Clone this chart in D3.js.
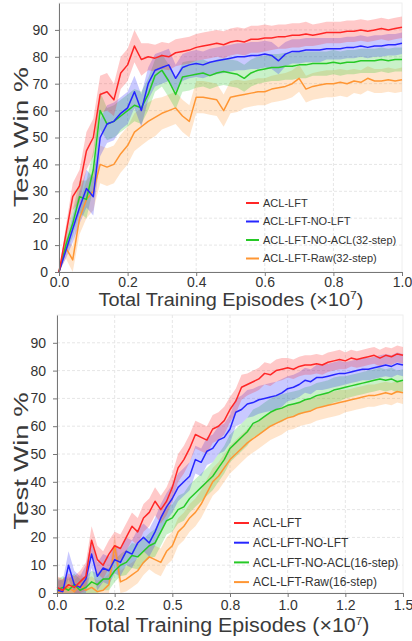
<!DOCTYPE html>
<html lang="en">
<head>
<meta charset="utf-8">
<style type="text/css">
    body { margin: 0; background: #fff; }
    svg { display: block; font-family: "Liberation Sans", Arial, sans-serif; }
    .grid line { stroke: #e6e6e6; stroke-width: 1px; stroke-dasharray: 3,2; }
    .axis path, .axis line { stroke: #777; }
    .axis text { fill: #333; font-size: 14px; }
</style>
</head>
<body>
<svg width="412" height="641"></svg>

<script src="https://d3js.org/d3.v7.min.js" type="text/javascript"></script>

<script type="text/javascript">
    var seriesNames32 = ["ACL-LFT", "ACL-LFT-NO-LFT", "ACL-LFT-NO-ACL(32-step)", "ACL-LFT-Raw(32-step)"];
    var seriesNames16 = ["ACL-LFT", "ACL-LFT-NO-LFT", "ACL-LFT-NO-ACL(16-step)", "ACL-LFT-Raw(16-step)"];
    var colors = ["#ff2626", "#2626ff", "#26c926", "#ff9633"];
    var yTicks = [0, 10, 20, 30, 40, 50, 60, 70, 80, 90];

    // top panel: episodes 0 .. 1.0 (x1e7), step 0.02
    var topStep = 0.02;
    var topXTicks = [0, 0.2, 0.4, 0.6, 0.8, 1.0];
    var topXLabels = ["0.0", "0.2", "0.4", "0.6", "0.8", "1.0"];
    var topRed = [0,14,28,32,45,50,66,67,64,74, 77,84,79,80,79.5,80.5,80,81.5,82,82.5,
        83.5,84,84.5,85,84.5,85.5,86,85.5,86.5,86.5, 87,87,87.5,87.5,88,88,88.5,88,88.5,89,
        89,89,89.5,89.5,90,89.5,90,90.5,90,90.5, 91];
    var topBlue = [0,8,16,24,31,28,50,55,56,59, 61,67,60,70,75,76,77,72,76,77,
        77.5,77,78,78.5,79,79.5,80,80,80.5,80.5, 81,80.5,78.5,81,82,82,82.5,82.5,82.5,83,
        83,83,83.5,83.5,84,83.5,84,84,84.5,84.5, 85];
    var topGreen = [0,10,18,28,27,38,60,55,56,58, 60,62,61,66,73,75,71,66,72.5,73,
        73.5,74,73,74,74.5,74,73.5,72,74,75, 75.5,76,76,76.5,76.5,77,77,77.5,77.5,77.5,
        78,77.5,78,78,78.5,78.5,78.5,79,78.5,79, 79];
    var topOrange = [0,9,4.5,20,27,30,40,39,40,44, 47,52,54,56,57.5,59,60,61,58,56,
        65,65,64.5,64,60,65,65.5,66,66.5,67, 67,68,68.5,69,70,72,68,69,69.5,70,
        70,70.5,70,71,70.5,72,71,71,71.5,71, 71.5];
    var topRedSd = [0,3,5,6,7,7,7,7,6,6, 6,6,6,5,5,5,5,5,5,5, 5,5,5,5,5,5,5,5,5,5,
        5,4.5,4.5,4.5,4.5,4.5,4.5,4,4,4, 4,4,4,4,4,4,4,4,4,4, 4];
    var topBlueSd = [0,3,5,6,7,7,7,7,7,6, 6,6,6,6,6,6,6,5,5,5, 5,5,5,5,5,5,5,5,5,5,
        5,5,5,4.5,4.5,4.5,4.5,4.5,4.5,4, 4,4,4,4,4,4,4,4,4,4, 4];
    var topGreenSd = [0,3,5,6,7,7,7,6,6,6, 6,6,6,6,6,6,6,5.5,5.5,5.5, 5,5,5,5,5,5,5,5,5,5,
        5,5,5,5,5,5,5,4.5,4.5,4.5, 4.5,4.5,4.5,4.5,4.5,4.5,4.5,4.5,4.5,4.5, 4.5];
    var topOrangeSd = [0,4,5,6,7,7,7,7,7,7, 7,7,7,7,7,6,6,6,6,6, 6,6,6,6,6,6,6,5,5,5,
        5,5,5,5,5,5,5,5,5,5, 5,5,5,4.5,4.5,4.5,4.5,4.5,4.5,4.5, 4.5];

    // bottom panel: episodes 0 .. 1.5 (x1e7), step 0.025
    var botStep = 0.025;
    var botXTicks = [0, 0.25, 0.5, 0.75, 1.0, 1.25, 1.5];
    var botXLabels = ["0.0", "0.2", "0.5", "0.8", "1.0", "1.2", "1.5"];
    var botRed = [2,1,3,2,4,6,19,12,10,14, 17,16,20,24,22,27,29,33,30,33,
        38,45,48,52,57,56,55,59,60,62, 66,69,74,75,76,77,79,78.5,80,80.5,
        81,80.5,81.5,82,82,82.5,82,83,83.5,84, 83.5,84.5,84,84.5,85,85.5,84.5,85.5,85,86, 85.5];
    var botBlue = [1,0.5,10,3,2,5,14,6,9,8, 12,11,15,14,18,20,18,22,27,31,
        34,38,40,42,48,47,51,52,55,56, 59,65,66,68,68.5,69.5,70,70.5,71,72,
        73.5,74,75,76.5,76,77.5,77.5,78,78.5,79, 79,79.5,80,80.5,80.5,81,81.5,82,81.5,82.5, 82];
    var botGreen = [1,2,1,3,1,2,4,3,5,5, 8,10,11,13.5,13,15,17,18,22,26,
        27,30,31,34,36,38,40,42,45,48, 52,54,56,58,61,62,63.5,65,66,66.5,
        67.5,68,68.5,69.5,70,71,71.5,72,73,73.5, 74,74.5,75,75.5,76,76.5,77,76.5,77,76, 76.5];
    var botOrange = [0,1,2,0.5,3,1,2,0.5,1,3, 17,4,5,6.5,8,11,13,12,11,15,
        17,22,24,27,29,32,36,40,42,45, 48,50,52,54,55.5,57,58.5,60,61,62,
        63,63.5,64.5,65,65.5,66.5,67,67.5,68,68.5, 69,69.5,70,70.5,71,71,71.5,72,71.5,72.5, 72];
    var botRedSd = [4,4,4,4,4,5,5,5,5,5, 5,5,5,5,5,5,5,5,5,5, 5,5,5,5,5,5,5,5,5,5,
        4.5,4.5,4.5,4,4,4,4,4,4,4, 3.5,3.5,3.5,3.5,3.5,3.5,3.5,3.5,3.5,3.5, 3,3,3,3,3,3,3,3,3,3, 3];
    var botBlueSd = [4,4,5,5,4,5,5,5,5,5, 5,5,5,5,5,5,5,5,5,5, 5,5,5,5,5,5,5,5,5,5,
        5,5,5,5,5,5,5,5,5,5, 4.5,4.5,4.5,4.5,4.5,4.5,4.5,4.5,4.5,4.5, 4,4,4,4,4,4,4,4,4,4, 4];
    var botGreenSd = [4,4,4,4,4,4,4,4,4,4, 4,4,4.5,4.5,4.5,4.5,4.5,5,5,5, 5,5,5,5,5,5,5,5,5,5,
        5,5,5,5,5,5,5,5,5,5, 4.5,4.5,4.5,4.5,4.5,4.5,4.5,4.5,4.5,4.5, 4,4,4,4,4,4,4,4,4,4, 4];
    var botOrangeSd = [4,4,4,4,4,4,4,4,4,4, 4,4,4.5,4.5,4.5,4.5,4.5,5,5,5, 5,5,5,5,5,5,5,5,5,5,
        5,5,5,5,5,5,5,5,5,5, 4.5,4.5,4.5,4.5,4.5,4.5,4.5,4.5,4.5,4.5, 4,4,4,4,4,4,4,4,4,4, 4];

    var svg = d3.select("svg");

    function drawPanel(p) {
        var x = d3.scaleLinear().domain(p.xDomain).range([p.left, p.right]);
        var y = d3.scaleLinear().domain([0, 100]).range([p.bottom, p.top]);
        var g = svg.append("g");

        // frame + grid
        g.append("rect")
            .attr("x", p.left).attr("y", p.top)
            .attr("width", p.right - p.left).attr("height", p.bottom - p.top)
            .attr("fill", "none").attr("stroke", "#eeeeee");
        var grid = g.append("g").attr("class", "grid");
        grid.selectAll(".gy").data(yTicks.slice(1)).enter().append("line")
            .attr("x1", p.left).attr("x2", p.right)
            .attr("y1", function (d) { return y(d); }).attr("y2", function (d) { return y(d); });
        grid.selectAll(".gx").data(p.xTicks.slice(1, -1)).enter().append("line")
            .attr("y1", p.top).attr("y2", p.bottom)
            .attr("x1", function (d) { return x(d); }).attr("x2", function (d) { return x(d); });

        var area = d3.area()
            .x(function (d) { return x(d.t); })
            .y0(function (d) { return y(Math.max(0, d.v - d.s)); })
            .y1(function (d) { return y(Math.min(100, d.v + d.s)); });
        var line = d3.line()
            .x(function (d) { return x(d.t); })
            .y(function (d) { return y(d.v); });

        var series = p.values.map(function (vals, k) {
            return vals.map(function (v, i) { return { t: i * p.step, v: v, s: p.sds[k][i] }; });
        });

        var order = [3, 2, 1, 0];
        order.forEach(function (k) {
            g.append("path").datum(series[k])
                .attr("d", area)
                .attr("fill", colors[k])
                .attr("fill-opacity", 0.25);
        });
        order.forEach(function (k) {
            g.append("path").datum(series[k])
                .attr("d", line)
                .attr("fill", "none")
                .attr("stroke", colors[k])
                .attr("stroke-width", 1.5)
                .attr("stroke-linejoin", "round");
        });

        // axes
        g.append("g").attr("class", "axis")
            .attr("transform", "translate(0," + p.bottom + ")")
            .call(d3.axisBottom(x).tickValues(p.xTicks)
                .tickFormat(function (d, i) { return p.xLabels[i]; })
                .tickSize(4).tickPadding(p.xPad).tickSizeOuter(0));
        g.append("g").attr("class", "axis")
            .attr("transform", "translate(" + p.left + ",0)")
            .call(d3.axisLeft(y).tickValues(yTicks).tickSize(4).tickPadding(7).tickSizeOuter(0));

        // titles
        var xt = g.append("text")
            .attr("x", p.xTitleX)
            .attr("y", p.bottom + p.xTitleDy)
            .attr("text-anchor", "middle")
            .attr("fill", "#3a3a3a")
            .style("font-size", p.xTitleFont + "px");
        xt.append("tspan").text("Total Training Episodes (×10");
        xt.append("tspan").attr("dy", "-7").style("font-size", "11px").text("7");
        xt.append("tspan").attr("dy", "7").text(")");
        xt.attr("textLength", p.xTitleLen).attr("lengthAdjust", "spacingAndGlyphs");

        g.append("text")
            .attr("transform", "translate(28," + p.yTitleY + ") rotate(-90)")
            .attr("text-anchor", "middle")
            .attr("fill", "#3a3a3a")
            .style("font-size", "21px")
            .attr("textLength", p.yTitleLen)
            .attr("lengthAdjust", "spacingAndGlyphs")
            .text("Test Win %");

        // legend
        var leg = g.append("g").attr("transform", "translate(" + p.legX + "," + p.legY + ")");
        p.names.forEach(function (name, k) {
            var row = leg.append("g").attr("transform", "translate(0," + (k * p.legGap) + ")");
            row.append("line").attr("x1", 0).attr("x2", p.legLine)
                .attr("stroke", colors[k]).attr("stroke-width", 2);
            row.append("text").attr("x", p.legLine + 4).attr("dy", "0.35em")
                .attr("fill", "#333").style("font-size", p.legFont + "px").text(name);
        });
    }

    drawPanel({
        left: 59, right: 402, top: 3, bottom: 272,
        xDomain: [0, 1.0], xTicks: topXTicks, xLabels: topXLabels, step: topStep, xPad: 1,
        values: [topRed, topBlue, topGreen, topOrange],
        sds: [topRedSd, topBlueSd, topGreenSd, topOrangeSd],
        names: seriesNames32,
        xTitleX: 231, xTitleLen: 265, xTitleFont: 18, xTitleDy: 34,
        yTitleY: 137, yTitleLen: 140,
        legX: 246, legY: 203, legGap: 18.5, legLine: 13, legFont: 11
    });

    drawPanel({
        left: 57, right: 403, top: 315, bottom: 593,
        xDomain: [0, 1.5], xTicks: botXTicks, xLabels: botXLabels, step: botStep, xPad: 3,
        values: [botRed, botBlue, botGreen, botOrange],
        sds: [botRedSd, botBlueSd, botGreenSd, botOrangeSd],
        names: seriesNames16,
        xTitleX: 227, xTitleLen: 285, xTitleFont: 20, xTitleDy: 39,
        yTitleY: 461, yTitleLen: 137,
        legX: 234, legY: 523, legGap: 19.7, legLine: 15, legFont: 12
    });
</script>
</body>
</html>
